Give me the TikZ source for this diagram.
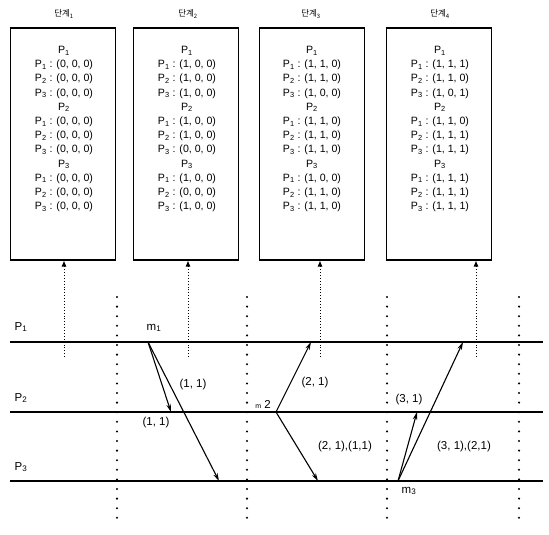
\documentclass[tikz,border=0pt]{standalone}
\usepackage{fontspec}
\setmainfont{Liberation Sans}
\newfontfamily\kr{Noto Sans CJK KR}
\usetikzlibrary{arrows.meta}
\begin{document}
\begin{tikzpicture}[x=1pt,y=-1pt,
  statebox/.style={draw,line width=1.1pt,minimum width=105pt,minimum height=232pt,inner sep=0pt},
  vecs/.style={anchor=north,align=center,inner sep=0pt,font=\fontsize{10.6}{14.2}\selectfont},
  title/.style={font=\kr\fontsize{8.5}{9}\selectfont},
  feed/.style={dotted,line width=0.9pt,-{Latex[length=6pt,width=5pt]}},
  timeline/.style={line width=1.3pt},
  cut/.style={line width=2.3pt,line cap=round,dash pattern=on 0pt off 9.6pt},
  msg/.style={line width=1.1pt,-{Stealth[length=8pt,width=4.5pt]}},
  lbl/.style={font=\fontsize{11.5}{12}\selectfont,inner sep=0pt}]
\useasboundingbox (0,0) rectangle (549,535);

% snapshot boxes
\node[statebox] (b1) at (63,144) {};
\node[statebox] (b2) at (186,144) {};
\node[statebox] (b3) at (312,144) {};
\node[statebox] (b4) at (439,144) {};

\node[title] (t1) at (64,14) {단계\textsubscript{1}};
\node[title] (t2) at (188,14) {단계\textsubscript{2}};
\node[title] (t3) at (311,14) {단계\textsubscript{3}};
\node[title] (t4) at (440,14) {단계\textsubscript{4}};

\node[vecs] (v1) at (64,46) {P\textsubscript{1}\\
P\textsubscript{1} : (0, 0, 0)\\ P\textsubscript{2} : (0, 0, 0)\\ P\textsubscript{3} : (0, 0, 0)\\
P\textsubscript{2}\\
P\textsubscript{1} : (0, 0, 0)\\ P\textsubscript{2} : (0, 0, 0)\\ P\textsubscript{3} : (0, 0, 0)\\
P\textsubscript{3}\\
P\textsubscript{1} : (0, 0, 0)\\ P\textsubscript{2} : (0, 0, 0)\\ P\textsubscript{3} : (0, 0, 0)};

\node[vecs] (v2) at (187,46) {P\textsubscript{1}\\
P\textsubscript{1} : (1, 0, 0)\\ P\textsubscript{2} : (1, 0, 0)\\ P\textsubscript{3} : (1, 0, 0)\\
P\textsubscript{2}\\
P\textsubscript{1} : (1, 0, 0)\\ P\textsubscript{2} : (1, 0, 0)\\ P\textsubscript{3} : (0, 0, 0)\\
P\textsubscript{3}\\
P\textsubscript{1} : (1, 0, 0)\\ P\textsubscript{2} : (0, 0, 0)\\ P\textsubscript{3} : (1, 0, 0)};

\node[vecs] (v3) at (312,46) {P\textsubscript{1}\\
P\textsubscript{1} : (1, 1, 0)\\ P\textsubscript{2} : (1, 1, 0)\\ P\textsubscript{3} : (1, 0, 0)\\
P\textsubscript{2}\\
P\textsubscript{1} : (1, 1, 0)\\ P\textsubscript{2} : (1, 1, 0)\\ P\textsubscript{3} : (1, 1, 0)\\
P\textsubscript{3}\\
P\textsubscript{1} : (1, 0, 0)\\ P\textsubscript{2} : (1, 1, 0)\\ P\textsubscript{3} : (1, 1, 0)};

\node[vecs] (v4) at (440,46) {P\textsubscript{1}\\
P\textsubscript{1} : (1, 1, 1)\\ P\textsubscript{2} : (1, 1, 0)\\ P\textsubscript{3} : (1, 0, 1)\\
P\textsubscript{2}\\
P\textsubscript{1} : (1, 1, 0)\\ P\textsubscript{2} : (1, 1, 1)\\ P\textsubscript{3} : (1, 1, 1)\\
P\textsubscript{3}\\
P\textsubscript{1} : (1, 1, 1)\\ P\textsubscript{2} : (1, 1, 1)\\ P\textsubscript{3} : (1, 1, 1)};

% snapshot feeds from the timelines
\coordinate (f1) at (64,357);
\coordinate (f2) at (188,357);
\coordinate (f3) at (320,357);
\coordinate (f4) at (476,357);
\draw[feed] (f1) -- (f1 |- b1.south);
\draw[feed] (f2) -- (f2 |- b2.south);
\draw[feed] (f3) -- (f3 |- b3.south);
\draw[feed] (f4) -- (f4 |- b4.south);

% process timelines
\coordinate (p1s) at (10,342); \coordinate (p1e) at (543,342);
\coordinate (p2s) at (10,412); \coordinate (p2e) at (543,412);
\coordinate (p3s) at (10,481); \coordinate (p3e) at (543,481);
\draw[timeline] (p1s) -- (p1e);
\draw[timeline] (p2s) -- (p2e);
\draw[timeline] (p3s) -- (p3e);
\node[lbl] (n1) at (21,327) {P\textsubscript{1}};
\node[lbl] (n2) at (21,398) {P\textsubscript{2}};
\node[lbl] (n3) at (21,467) {P\textsubscript{3}};

% step boundaries
\foreach \x/\n in {117/c1,247/c2,387/c3,519/c4}{
  \coordinate (\n t) at (\x,297);
  \coordinate (\n b) at (\x,527);
  \draw[cut] (\n t) -- (\n b);
}

% messages
\coordinate (m1) at (148,342);
\coordinate (m1a) at (171,412);
\coordinate (m1b) at (219,481);
\coordinate (m2) at (276,412);
\coordinate (m2a) at (311,342);
\coordinate (m2b) at (318,481);
\coordinate (m3) at (398,481);
\coordinate (m3a) at (417,412);
\coordinate (m3b) at (463,342);
\draw[msg] (m1) -- (m1a);
\draw[msg] (m1) -- (m1b);
\draw[msg] (m2) -- (m2a);
\draw[msg] (m2) -- (m2b);
\draw[msg] (m3) -- (m3a);
\draw[msg] (m3) -- (m3b);

\node[lbl] (l1) at (154,328) {m\textsubscript{1}};
\node[lbl] (l2) at (263,404) {{\fontsize{7}{8}\selectfont m} 2};
\node[lbl] (l3) at (409,491) {m\textsubscript{3}};

\node[lbl] (a1) at (193,385) {(1, 1)};
\node[lbl] (a2) at (156,423) {(1, 1)};
\node[lbl] (a3) at (315,383) {(2, 1)};
\node[lbl] (a4) at (345,447) {(2, 1),(1,1)};
\node[lbl] (a5) at (409,400) {(3, 1)};
\node[lbl] (a6) at (464,447) {(3, 1),(2,1)};
\end{tikzpicture}
\end{document}
